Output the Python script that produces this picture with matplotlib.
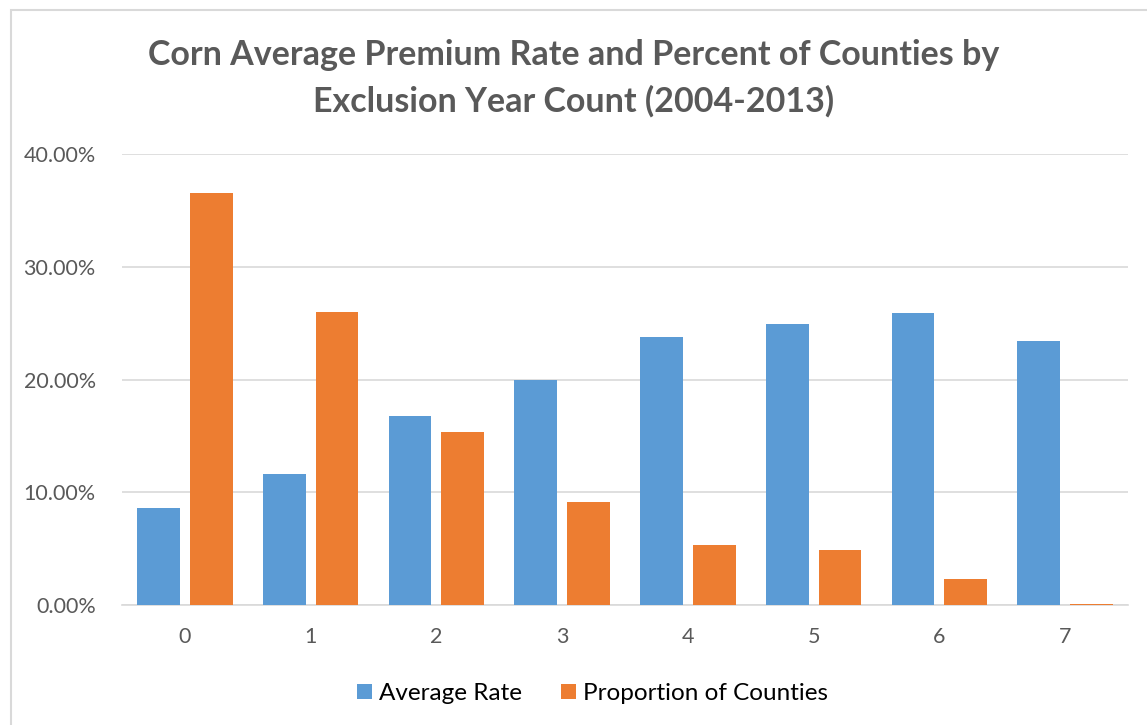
import numpy as np
import matplotlib.pyplot as plt
from matplotlib.patches import Rectangle
from matplotlib.ticker import PercentFormatter

# Exclusion year counts and the two series (as fractions)
year_counts = ['0', '1', '2', '3', '4', '5', '6', '7']
average_rate = [0.086, 0.116, 0.168, 0.200, 0.238, 0.249, 0.259, 0.234]
proportion_counties = [0.365, 0.260, 0.153, 0.091, 0.053, 0.049, 0.023, 0.001]

blue = '#5b9bd5'
orange = '#ed7d31'
text_gray = '#595959'
grid_gray = '#d9d9d9'

plt.rcParams['font.family'] = ['Lato', 'DejaVu Sans']

fig = plt.figure(figsize=(11.47, 7.25), dpi=100)
ax = fig.add_axes([0.1064, 0.1655, 0.877, 0.6221])

x = np.arange(len(year_counts))
w = 0.34
gap = 0.08
ax.bar(x - (w + gap) / 2, average_rate, w, color=blue, label='Average Rate', zorder=3)
ax.bar(x + (w + gap) / 2, proportion_counties, w, color=orange, label='Proportion of Counties', zorder=3)

ax.set_xlim(-0.5, len(year_counts) - 0.5)
ax.set_ylim(0, 0.40)
ax.set_yticks(np.arange(0, 0.41, 0.10))
ax.yaxis.set_major_formatter(PercentFormatter(1.0, decimals=2))
ax.set_xticks(x)
ax.set_xticklabels(year_counts)
ax.grid(axis='y', color=grid_gray, linewidth=1.2, zorder=0)
for s in ['top', 'right', 'left']:
    ax.spines[s].set_visible(False)
ax.spines['bottom'].set_color(grid_gray)
ax.spines['bottom'].set_linewidth(1.2)
ax.tick_params(axis='both', length=0, labelsize=15.5, labelcolor=text_gray)
ax.tick_params(axis='y', pad=19)
ax.tick_params(axis='x', pad=16)

fig.text(0.5, 0.892, 'Corn Average Premium Rate and Percent of Counties by\nExclusion Year Count (2004-2013)',
         ha='center', va='center', fontsize=24.5, fontweight='bold', color=text_gray, linespacing=1.55)

ax.legend(loc='upper center', bbox_to_anchor=(0.468, -0.125), ncol=2, frameon=False,
          fontsize=17.5, handlelength=0.6, handleheight=0.6, columnspacing=1.6, handletextpad=0.3)

# chart frame
fig.patches.append(Rectangle((11 / 1147, -0.1), 1.2, 1 - 10 / 725 + 0.1, transform=fig.transFigure,
                             fill=False, edgecolor=grid_gray, linewidth=1.5))

fig.savefig('out.png', dpi=100)
